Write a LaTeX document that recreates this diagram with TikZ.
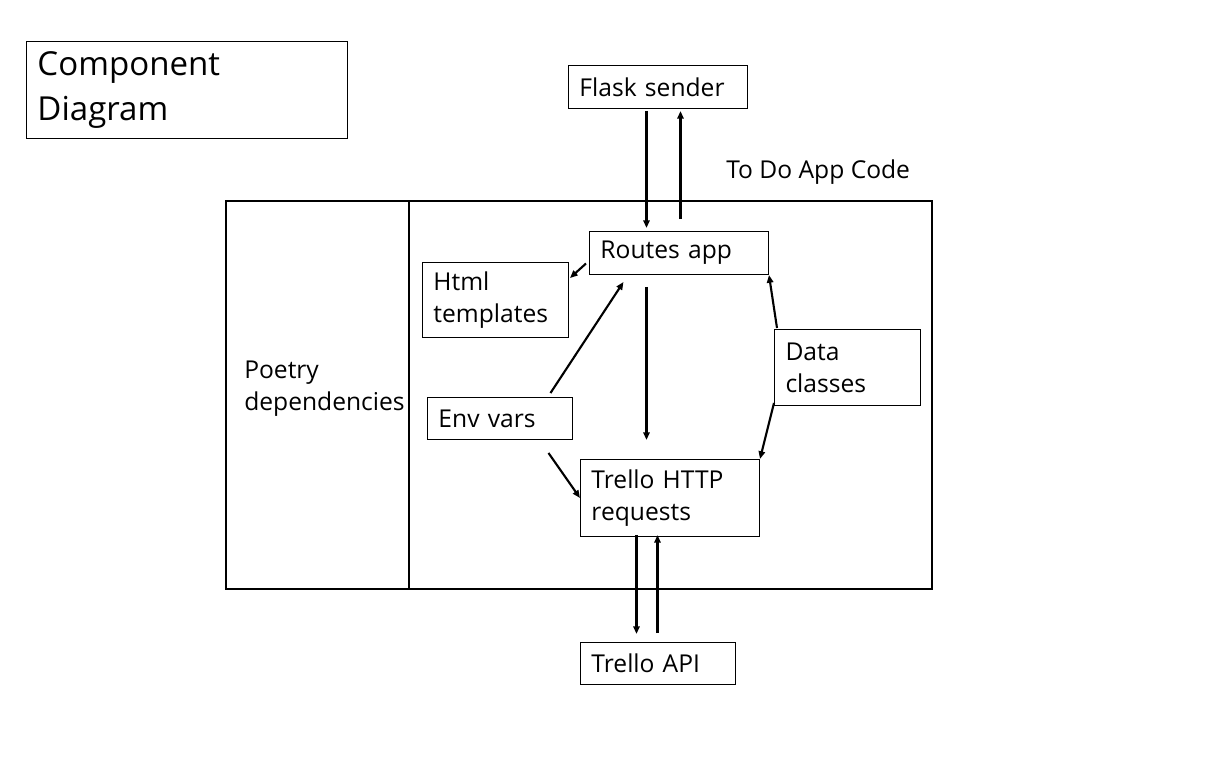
\documentclass[tikz,border=0pt]{standalone}
\usepackage{fontspec}
\setmainfont{Open Sans}
\usetikzlibrary{arrows.meta,calc}
\newlength\px
\setlength\px{0.025cm}
\begin{document}
\begin{tikzpicture}[x=1\px,y=-1\px,
  bx/.style={draw,line width=0.7pt,anchor=north west,inner xsep=11\px,inner ysep=0pt,align=left,font=\fontsize{17.5}{22.7}\selectfont},
  ar/.style={-{Triangle[length=5.5pt,width=4.5pt]},line width=1.5pt}]
  \useasboundingbox (0,0) rectangle (1230,771);

  \node[bx,minimum height=97\px,text width=299\px,font=\fontsize{23.5}{31.5}\selectfont] (title) at (26,41) {Component\\Diagram};

  \node[bx,minimum height=43\px,text width=157\px] (flask) at (568,65) {Flask sender};
  \node[anchor=west,inner sep=0pt,font=\fontsize{17.5}{22.7}\selectfont] (todo) at (726,172) {To Do App Code};

  \draw[line width=1.5pt] (226,201) rectangle (932,589);
  \draw[line width=1.5pt] (409,201) -- (409,589);
  \node[anchor=west,inner sep=0pt,align=left,font=\fontsize{17.5}{22.7}\selectfont] (poetry) at (244,389) {Poetry\\dependencies};

  \node[bx,minimum height=43\px,text width=157\px] (routes) at (589,231) {Routes app};
  \node[bx,minimum height=75\px,text width=124\px] (html) at (422,262) {Html\\templates};
  \node[bx,minimum height=42\px,text width=123\px] (env) at (427,397) {Env vars};
  \node[bx,minimum height=76\px,text width=124\px] (data) at (774,329) {Data\\classes};
  \node[bx,minimum height=77\px,text width=157\px] (trello) at (580,459) {Trello HTTP\\requests};
  \node[bx,minimum height=42\px,text width=133\px] (api) at (580,642) {Trello API};

  \draw[ar] ($(flask.south)+(-11.5,2)$) -- ($(routes.north)+(-32.5,-3)$);
  \draw[ar] ($(routes.north)+(1.5,-12)$) -- ($(flask.south)+(22.5,2)$);
  \draw[ar] ($(routes.west)+(-3,10.5)$) -- ($(html.north east)+(1,16)$);
  \draw[ar] ($(env.north)+(50.5,-4)$) -- ($(routes.south)+(-55.5,7)$);
  \draw[ar] ($(routes.south)+(-32.5,12)$) -- ($(trello.north)+(-23.5,-19)$);
  \draw[ar] ($(env.south)+(48.5,13)$) -- (trello.west);
  \draw[ar] ($(data.north west)+(3,-1)$) -- (routes.south east);
  \draw[ar] ($(data.south west)+(0,-3)$) -- (trello.north east);
  \draw[ar] ($(trello.south)+(-33.5,-2)$) -- ($(api.north)+(-21.5,-8)$);
  \draw[ar] ($(api.north)+(-0.5,-9)$) -- ($(trello.south)+(-12.5,-2)$);
\end{tikzpicture}
\end{document}
